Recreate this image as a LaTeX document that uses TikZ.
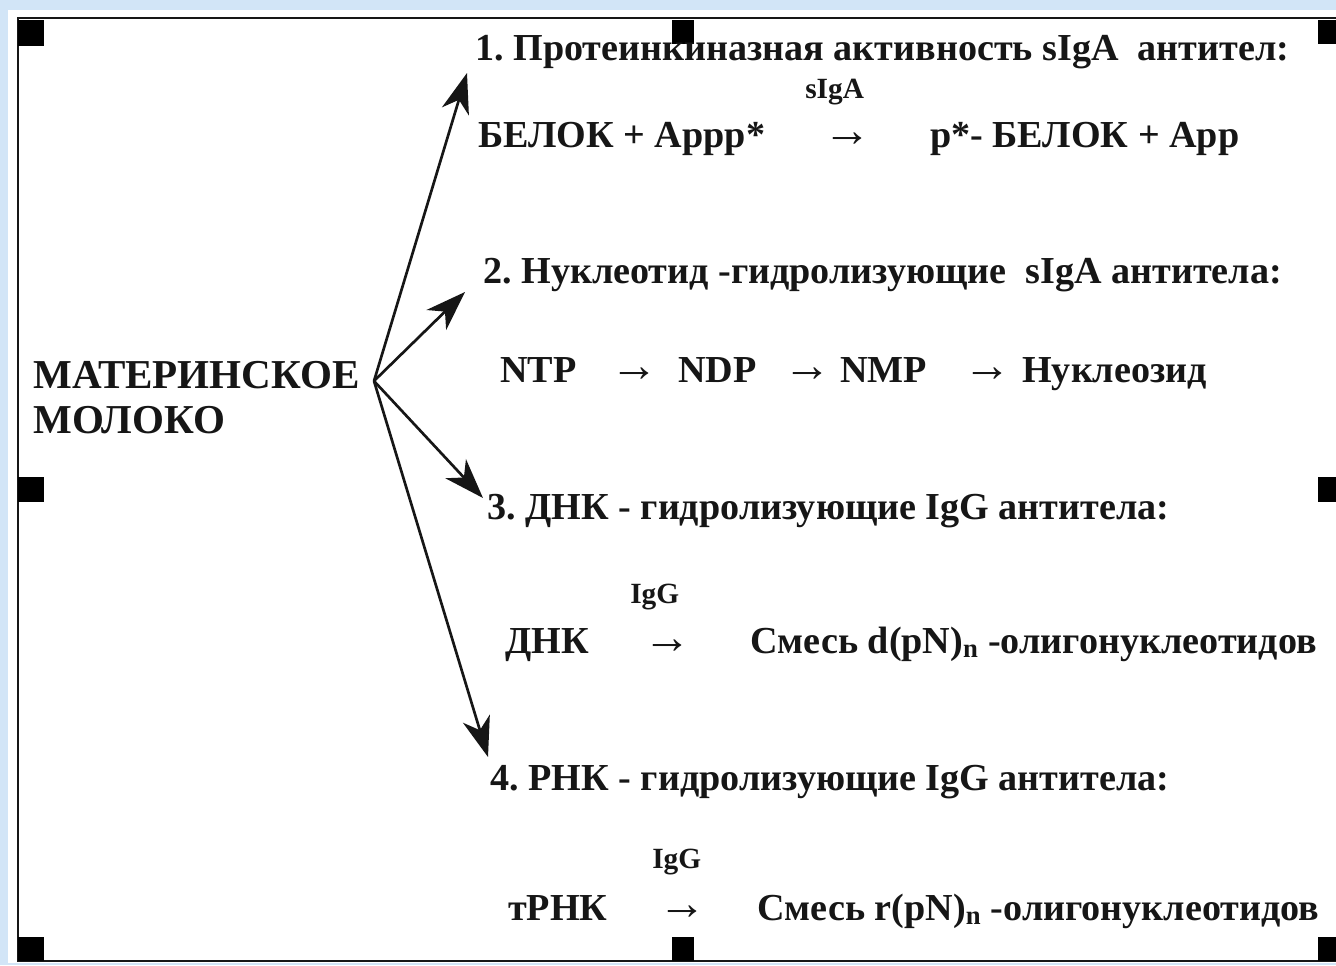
\documentclass[tikz,border=0pt]{standalone}
\usepackage{fontspec}
\setmainfont{Liberation Serif}
\usetikzlibrary{arrows.meta}
\definecolor{outerblue}{RGB}{210,229,247}
\definecolor{ink}{RGB}{22,22,22}
\frenchspacing
\begin{document}
\begin{tikzpicture}[x=0.75pt,y=-0.75pt,
  txt/.style={inner sep=0pt, anchor=base west, text=ink, font=\bfseries\fontsize{28.6}{32}\selectfont},
  bigtxt/.style={inner sep=0pt, anchor=base west, text=ink, font=\bfseries\fontsize{30.8}{34}\selectfont},
  lbl/.style={inner sep=0pt, anchor=base west, text=ink, font=\bfseries\fontsize{22}{24}\selectfont},
  rarr/.style={inner sep=0pt, anchor=base west, text=ink, font=\bfseries\fontsize{36}{38}\selectfont},
  conn/.style={draw=ink, line width=2pt, -{Stealth[length=30pt, width=21pt, inset=9pt]}},
  frameline/.style={draw=ink, line width=2.2pt},
  handle/.style={fill=black}
]
% background and frame
\useasboundingbox (0,0) rectangle (1336,965);
\fill[outerblue] (0,0) rectangle (1336,965);
\fill[white] (8,10) rectangle (1336,963);
\draw[frameline] (1336,18) -- (18,18) -- (18,961) -- (1336,961);
\fill[handle] (18,20) rectangle (44,46);
\fill[handle] (672,20) rectangle (694,44);
\fill[handle] (1318,20) rectangle (1336,44);
\fill[handle] (18,477) rectangle (44,502);
\fill[handle] (1318,477) rectangle (1336,502);
\fill[handle] (18,937) rectangle (44,961);
\fill[handle] (672,937) rectangle (694,961);
\fill[handle] (1318,937) rectangle (1336,961);

% source
\node[bigtxt] (milk1) at (33,388) {МАТЕРИНСКОЕ};
\node[bigtxt] (milk2) at (33,433) {МОЛОКО};
\coordinate (hub) at (374,381);

% 1
\node[txt] (h1) at (475,60) {1. Протеинкиназная активность sIgA\ \ антител:};
\node[lbl] (l1) at (805,98) {sIgA};
\node[txt] (a1) at (478,147) {БЕЛОК + Аррр*};
\node[rarr] (ar1) at (823,146) {→};
\node[txt] (b1) at (930,147) {р*- БЕЛОК + Арр};
\coordinate (t1) at (467,73);

% 2
\node[txt] (h2) at (483,283) {2. Нуклеотид -гидролизующие\ \ sIgA антитела:};
\node[txt] (n1) at (500,382) {NTP};
\node[rarr] (ar2a) at (610,381) {→};
\node[txt] (n2) at (678,382) {NDP};
\node[rarr] (ar2b) at (783,381) {→};
\node[txt] (n3) at (840,382) {NMP};
\node[rarr] (ar2c) at (963,381) {→};
\node[txt] (n4) at (1022,382) {Нуклеозид};
\coordinate (t2) at (465,292);

% 3
\node[txt] (h3) at (487,519) {3. ДНК - гидролизующие IgG антитела:};
\node[lbl] (l3) at (630,603) {IgG};
\node[txt] (a3) at (505,653) {ДНК};
\node[rarr] (ar3) at (643,653) {→};
\node[txt] (b3) at (750,653) {Смесь d(pN)\textsubscript{n} -олигонуклеотидов};
\coordinate (t3) at (483,498);

% 4
\node[txt] (h4) at (490,790) {4. РНК - гидролизующие IgG антитела:};
\node[lbl] (l4) at (652,868) {IgG};
\node[txt] (a4) at (508,920) {тРНК};
\node[rarr] (ar4) at (658,919) {→};
\node[txt] (b4) at (757,920) {Смесь r(pN)\textsubscript{n} -олигонуклеотидов};
\coordinate (t4) at (488,757);

% connectors
\draw[conn] (hub) -- (t1);
\draw[conn] (hub) -- (t2);
\draw[conn] (hub) -- (t3);
\draw[conn] (hub) -- (t4);
\end{tikzpicture}
\end{document}
